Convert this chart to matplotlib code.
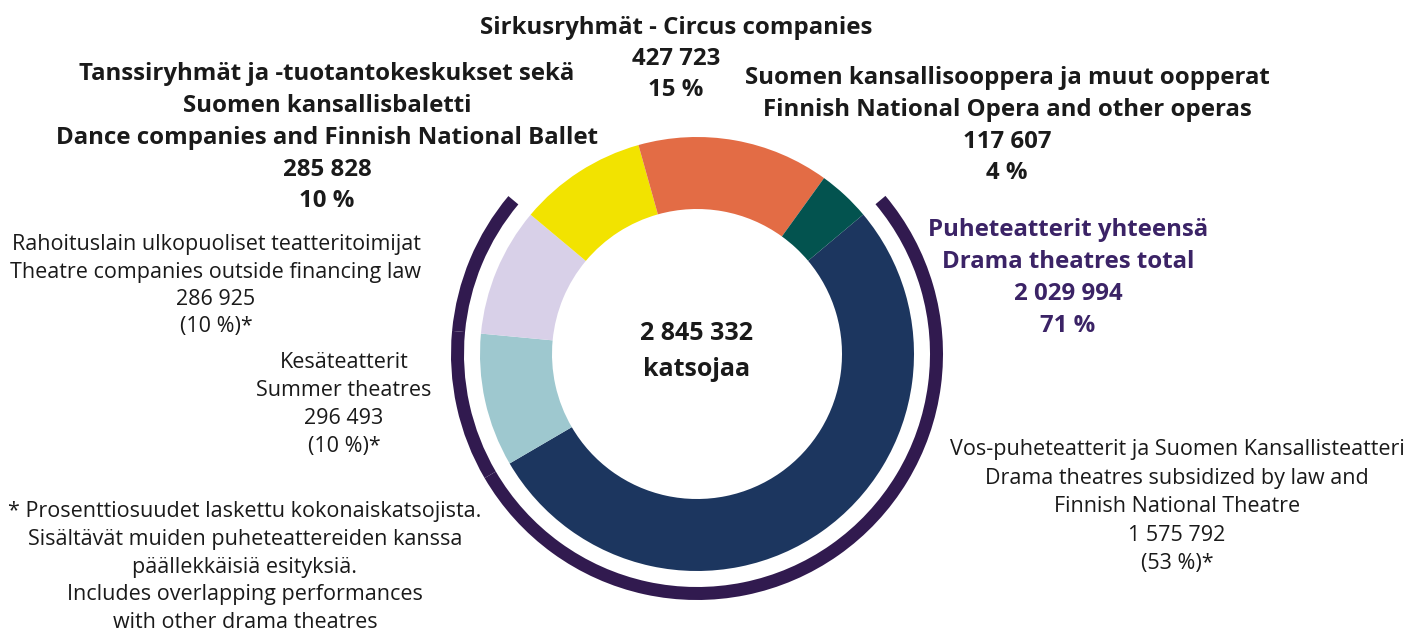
import numpy as np
import matplotlib
matplotlib.use("Agg")
import matplotlib.pyplot as plt

plt.rcParams["font.family"] = ["Open Sans", "DejaVu Sans"]

# segments, clockwise from the top-right
segments = ["Vos-puheteatterit", "Kesäteatterit", "Rahoituslain ulkopuoliset",
            "Tanssi", "Sirkus", "Ooppera"]
viewers = [1575792, 296493, 286925, 285828, 427723, 117607]
colors = ["#1c365f", "#9ec8cf", "#d8d0e8", "#f2e300", "#e36c45", "#03534f"]
drama_group = [True, True, True, False, False, False]

total_label = ["2 845 332", "katsojaa"]
circus_label = ["Sirkusryhmät - Circus companies", "427 723", "15 %"]
dance_label = ["Tanssiryhmät ja -tuotantokeskukset sekä", "Suomen kansallisbaletti",
               "Dance companies and Finnish National Ballet", "285 828", "10 %"]
opera_label = ["Suomen kansallisooppera ja muut oopperat",
               "Finnish National Opera and other operas", "117 607", "4 %"]
drama_total = ["Puheteatterit yhteensä", "Drama theatres total", "2 029 994", "71 %"]
outside_label = ["Rahoituslain ulkopuoliset teatteritoimijat",
                 "Theatre companies outside financing law", "286 925", "(10 %)*"]
summer_label = ["Kesäteatterit", "Summer theatres", "296 493", "(10 %)*"]
vos_label = ["Vos-puheteatterit ja Suomen Kansallisteatteri",
             "Drama theatres subsidized by law and", "Finnish National Theatre",
             "1 575 792", "(53 %)*"]
footnote = ["* Prosenttiosuudet laskettu kokonaiskatsojista.",
            "Sisältävät muiden puheteattereiden kanssa",
            "päällekkäisiä esityksiä.",
            "Includes overlapping performances",
            "with other drama theatres"]

W, H = 1426, 633
fig = plt.figure(figsize=(W / 100, H / 100), dpi=100)
ax = fig.add_axes([0, 0, 1, 1])

cx, cy = 697, H - 354
ax.pie(viewers, colors=colors, startangle=40, counterclock=False,
       center=(cx, cy), radius=217, frame=True,
       wedgeprops=dict(width=72, linewidth=0))

# outer bracket arc over the drama theatre segments
arc_cols = ["#311a4f" if d else "none" for d in drama_group]
ax.pie(viewers, colors=arc_cols, startangle=40, counterclock=False,
       center=(cx, cy), radius=246, frame=True,
       wedgeprops=dict(width=13, linewidth=0))
ax.set_xlim(0, W)
ax.set_ylim(0, H)
ax.axis("off")


def label(x, y0, lines, step, size, weight="normal", color="#1a1a1a"):
    # y0 = visual middle of first line in pixels from the top
    off = 0.3 * size * 100 / 72
    for i, s in enumerate(lines):
        ax.text(x, H - (y0 + i * step) - off, s, ha="center", va="baseline",
                fontsize=size, fontweight=weight, color=color)


label(cx, 332, total_label, 37, 18, "bold")

label(676, 27, circus_label, 31, 17.3, "bold")
label(327, 73, dance_label, 31.8, 17.3, "bold")
label(1007, 77, opera_label, 31.7, 17.3, "bold")
label(1068, 229, drama_total, 32, 17.3, "bold", color="#3b2366")

label(216, 244, outside_label, 27.3, 15.5)
label(344, 362, summer_label, 28, 15.5)
label(1177, 449, vos_label, 28.5, 15.5)
label(245, 511, footnote, 27.6, 15.5)

fig.savefig("out.png", dpi=100)
